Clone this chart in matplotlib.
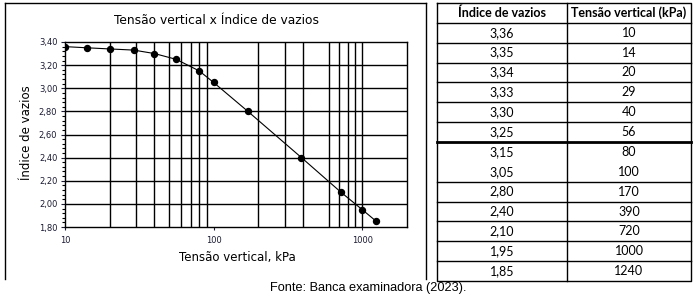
import matplotlib
matplotlib.use("Agg")
import matplotlib.pyplot as plt
from matplotlib.ticker import FixedLocator, MultipleLocator, FuncFormatter, NullLocator
from matplotlib.lines import Line2D

# dados da tabela / curva
indice = [3.36, 3.35, 3.34, 3.33, 3.30, 3.25, 3.15, 3.05, 2.80, 2.40, 2.10, 1.95, 1.85]
tensao = [10, 14, 20, 29, 40, 56, 80, 100, 170, 390, 720, 1000, 1240]
x_grid = [20, 30, 40, 50, 60, 70, 80, 90, 200, 300, 400, 600, 700, 800, 900, 1000]
x_ticks = [10, 100, 1000]
y_ticks = [1.80, 2.00, 2.20, 2.40, 2.60, 2.80, 3.00, 3.20, 3.40]
col_headers = ["Índice de vazios", "Tensão vertical (kPa)"]
title = "Tensão vertical x Índice de vazios"
xlabel = "Tensão vertical, kPa"
ylabel = "Índice de vazios"
fonte = "Fonte: Banca examinadora (2023)."

W, H = 699, 300
fig = plt.figure(figsize=(W / 100, H / 100), dpi=100)


def fx(px):
    return px / W


def fy(py):
    return 1 - py / H


# moldura do grafico
for xs, ys in [((5, 5), (3, 279)), ((5, 426), (3, 3)), ((426, 426), (3, 279))]:
    fig.add_artist(Line2D([fx(xs[0]), fx(xs[1])], [fy(ys[0]), fy(ys[1])],
                          transform=fig.transFigure, color="black", lw=1.0))

ax = fig.add_axes([fx(65), fy(227), (407 - 65) / W, (227 - 42) / H])
ax.set_xscale("log")
ax.set_xlim(10, 2000)
ax.set_ylim(1.8, 3.4)
for v in x_grid:
    ax.axvline(v, color="black", lw=1.0, zorder=1)
for v in y_ticks[1:-1]:
    ax.axhline(v, color="black", lw=1.0, zorder=1)
ax.plot(tensao, indice, color="black", lw=0.8, marker="o", ms=4.3, zorder=3)

ax.xaxis.set_major_locator(FixedLocator(x_ticks))
ax.xaxis.set_minor_locator(NullLocator())
ax.xaxis.set_major_formatter(FuncFormatter(lambda v, p: f"{v:.0f}"))
ax.yaxis.set_major_locator(FixedLocator(y_ticks))
ax.yaxis.set_minor_locator(MultipleLocator(0.04))
ax.yaxis.set_major_formatter(FuncFormatter(lambda v, p: f"{v:.2f}".replace(".", ",")))
ax.tick_params(axis="y", which="major", length=3, width=0.8, labelsize=6, pad=2.5, colors="#1a1a33")
ax.tick_params(axis="y", which="minor", length=2, width=0.8)
ax.tick_params(axis="x", which="major", length=2.5, width=0.8, labelsize=6, pad=4, colors="#1a1a33")
for s in ax.spines.values():
    s.set_linewidth(1.0)

fig.text(fx(216), fy(21), title, ha="center", va="center", fontsize=8.8, family="DejaVu Sans")
fig.text(fx(237), fy(258), xlabel, ha="center", va="center", fontsize=8.5, family="DejaVu Sans")
fig.text(fx(27), fy(133), ylabel, ha="center", va="center", rotation=90, fontsize=8.5, family="DejaVu Sans")
fig.text(fx(368), fy(288), fonte, ha="center", va="center", fontsize=9.2, family="Liberation Sans")

# tabela
tl, tr, tt, tb = 437, 691, 3, 281
ax_t = fig.add_axes([fx(tl), fy(tb), (tr - tl) / W, (tb - tt) / H])
n_rows = len(indice) + 1
ax_t.set_xlim(0, tr - tl)
ax_t.set_ylim(n_rows, 0)
ax_t.axis("off")
col_split = 567 - tl
tw = tr - tl
ax_t.plot([0, tw, tw, 0, 0], [0, 0, n_rows, n_rows, 0], color="black", lw=1.0, clip_on=False)
ax_t.plot([col_split, col_split], [0, n_rows], color="black", lw=1.0, clip_on=False)
for r in range(1, n_rows):
    if r == 8:
        continue
    ax_t.plot([0, tw], [r, r], color="black", lw=2.0 if r == 7 else 1.0, clip_on=False)

c1, c2 = col_split / 2, (col_split + tw) / 2
ax_t.text(c1, 0.5, col_headers[0], ha="center", va="center", fontsize=9, weight="bold", family="Lato")
ax_t.text(c2, 0.5, col_headers[1], ha="center", va="center", fontsize=9, weight="bold", family="Lato")
for i, (e, t) in enumerate(zip(indice, tensao)):
    ax_t.text(c1, i + 1.5, f"{e:.2f}".replace(".", ","), ha="center", va="center", fontsize=9, family="Lato")
    ax_t.text(c2, i + 1.5, f"{t}", ha="center", va="center", fontsize=9, family="Lato")

fig.savefig("out.png", dpi=100)
